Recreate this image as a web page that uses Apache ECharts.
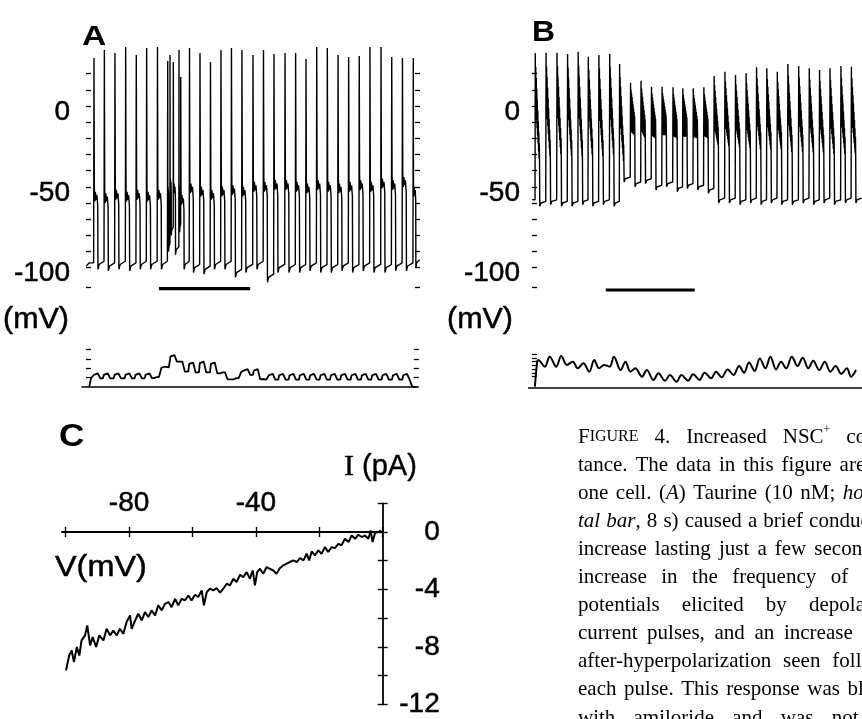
<!DOCTYPE html>
<html><head><meta charset="utf-8">
<script src="https://cdn.jsdelivr.net/npm/echarts@6/dist/echarts.min.js"></script>
<style>html,body{margin:0;padding:0;background:#fff}#c{width:862px;height:719px}</style>
</head><body><div id="c"></div>
<script>
// ---------- Panel A : membrane potential (mV) vs time (s) ----------
const aSpikeT = [0.70,1.61,2.54,3.48,4.41,5.32,6.27,7.17,7.37,7.66,8.16,8.31,9.08,10.00,10.92,11.84,12.76,13.68,14.65,15.57,16.49,17.46,18.39,19.30,20.24,21.17,22.11,23.04,23.97,24.91,25.88,26.82,27.76,28.71];
const aPeak   = [29.7,34.6,32.8,36.5,31.5,35.9,36.5,27.8,31.5,27.2,34.6,18.0,35.9,32.8,27.2,34.6,35.9,34.6,31.5,34.6,32.2,32.8,32.8,29.0,36.5,35.9,31.5,30.3,30.9,36.5,36.5,30.3,29.7,29.7];
const aHump   = [-53,-54,-52,-53,-52,-53,-52,-50,-45,-48,-50,-55,-48,-50,-52,-50,-49,-50,-47,-47,-46,-46,-47,-48,-46,-47,-48,-47,-46,-47,-45,-46,-44,-50];
const aTrough = [-101,-102,-101,-102,-101,-101,-101,-90,-80,-92,-78,-101,-103,-104,-101,-101,-106,-103,-101,-109,-103,-103,-103,-102,-103,-103,-102,-103,-102,-103,-103,-102,-102,-100];
const aBarT   = [6.4,14.4];
// A conductance (arbitrary units) : one hump per current pulse
const aBumpT   = [0.94,1.81,2.75,3.71,4.59,5.47,6.30,6.95,7.66,8.36,9.30,10.23,11.20,12.10,13.30,14.09,14.97,15.50,16.29,17.19,18.10,19.01,19.91,20.82,21.73,22.63,23.54,24.45,25.35,26.26,27.17,28.07];
const aBumpTop = [1.45,1.45,1.45,1.45,1.45,1.45,1.05,2.15,3.40,2.70,2.60,2.70,2.60,1.55,0.95,1.90,1.90,0.85,1.40,1.40,1.40,1.40,1.40,1.40,1.40,1.40,1.40,1.40,1.40,1.40,1.40,1.40];
const aBumpLow = [0.92,0.92,0.92,0.92,0.92,0.95,2.05,2.10,2.70,1.63,1.55,1.55,1.45,0.82,1.60,1.28,0.80,0.78,0.78,0.78,0.78,0.78,0.78,0.78,0.78,0.78,0.78,0.78,0.78,0.78,0.78,0.78];

// ---------- Panel B ----------
const bSpikeT   = [0.29,1.25,2.22,3.16,4.10,5.00,5.94,6.90,7.78,8.75,9.68,10.61,11.55,12.52,13.39,14.32,15.26,16.17,17.13,18.07,19.01,19.94,20.85,21.78,22.72,23.68,24.62,25.53,26.46,27.43,28.36];
const bPeak     = [32.8,33.0,33.0,32.2,33.6,30.5,31.5,32.2,26.0,14.4,15.6,11.9,11.9,11.6,10.9,10.9,11.6,18.6,21.2,19.2,20.2,23.9,23.3,21.2,26.0,24.7,23.3,22.3,23.3,24.7,24.3];
const bShoulder = [-35,-33,-32,-33,-33,-32,-33,-32,-36,-18,-20,-20,-18,-20,-19,-20,-20,-25,-26,-26,-27,-28,-28,-28,-30,-30,-30,-30,-31,-31,-31];
const bTrough   = [-62,-61,-62,-62,-61,-62,-61,-62,-47,-50,-48,-52,-50,-53,-51,-52,-54,-60,-60,-61,-60,-61,-60,-61,-61,-60,-61,-60,-61,-60,-60];
const bBarT     = [6.55,14.45];
const bCondT = [0.26,0.47,0.56,1.14,1.58,2.16,2.60,3.10,3.63,4.06,4.56,5.09,5.53,5.96,6.40,6.90,7.28,7.87,8.30,8.74,9.18,9.77,10.20,10.79,11.23,11.81,12.25,12.84,13.27,13.86,14.30,14.88,15.32,15.91,16.34,16.84,17.37,17.89,18.39,18.83,19.27,19.77,20.23,20.73,21.17,21.67,22.11,22.57,23.07,23.57,24.04,24.53,24.97,25.50,25.99,26.49,26.96,27.46,27.95,28.33,28.77];
const bCondG = [0.14,2.80,2.98,2.27,3.33,2.27,3.40,2.45,2.80,2.09,2.62,1.74,2.98,2.09,2.45,2.27,3.33,1.91,2.80,1.74,2.09,1.21,1.91,0.85,1.56,0.78,1.38,0.67,1.38,0.78,1.45,0.85,1.63,1.03,1.74,1.14,1.98,1.38,2.34,1.63,2.70,1.81,3.15,2.09,3.33,1.98,2.80,2.09,3.33,2.34,3.22,2.09,2.91,1.91,2.80,1.74,2.34,1.50,2.09,1.21,1.91];

// ---------- Panel C : I-V relation ----------
const ivPoints = [[-99.9,-9.64],[-98.9,-8.60],[-98.1,-8.25],[-97.4,-9.06],[-96.5,-8.01],[-95.7,-8.60],[-95.0,-7.55],[-93.9,-7.20],[-93.2,-6.51],[-92.3,-7.90],[-91.5,-7.32],[-90.4,-8.01],[-89.4,-7.20],[-88.1,-7.55],[-87.1,-6.74],[-86.0,-7.20],[-85.0,-6.86],[-83.9,-7.20],[-82.9,-6.74],[-81.8,-7.09],[-80.8,-6.27],[-79.7,-5.81],[-79.2,-6.74],[-78.1,-6.16],[-77.1,-5.69],[-76.0,-6.16],[-75.0,-5.58],[-73.9,-5.92],[-72.9,-5.46],[-71.8,-5.81],[-70.8,-5.11],[-69.7,-5.46],[-68.7,-5.00],[-67.6,-4.88],[-66.6,-5.23],[-65.5,-4.65],[-64.5,-5.11],[-63.4,-4.65],[-62.4,-4.76],[-61.3,-4.42],[-60.3,-4.76],[-59.2,-4.37],[-58.2,-4.53],[-57.1,-4.07],[-56.4,-5.11],[-55.5,-4.18],[-54.5,-3.95],[-53.4,-4.07],[-52.4,-3.90],[-51.3,-4.23],[-50.3,-3.95],[-49.2,-3.60],[-48.2,-3.72],[-47.1,-3.25],[-46.1,-3.48],[-45.0,-2.98],[-44.0,-3.14],[-42.9,-2.79],[-41.9,-3.25],[-41.0,-2.68],[-40.3,-3.72],[-39.6,-2.79],[-38.7,-2.56],[-37.7,-2.91],[-36.6,-2.44],[-35.6,-2.56],[-34.5,-2.68],[-33.5,-2.91],[-32.4,-2.51],[-31.4,-2.33],[-30.3,-2.21],[-29.3,-2.09],[-28.2,-1.98],[-27.1,-2.09],[-26.1,-1.81],[-25.0,-1.98],[-24.0,-1.51],[-23.2,-1.98],[-22.4,-1.35],[-21.4,-1.63],[-20.3,-1.28],[-19.3,-1.51],[-18.2,-1.05],[-17.2,-1.39],[-16.1,-1.05],[-15.1,-1.12],[-14.0,-0.82],[-13.0,-0.93],[-11.9,-0.47],[-10.8,-0.70],[-9.8,-0.24],[-8.7,-0.47],[-7.7,-0.19],[-6.6,-0.35],[-5.6,-0.24],[-4.5,-0.47],[-3.8,0.11],[-3.2,-0.70],[-2.4,-0.05],[-1.4,0.00],[-0.6,0.11]];

// ---------- tick values / labels ----------
const mvTicks = [20,10,0,-10,-20,-30,-40,-50,-60,-70,-80,-90,-100,-112];
const mvLabels = [0,-50,-100];
const gTicksA = [1,2,3,4];
const gTicksB = [1.2,1.6,2.0,2.4,2.8,3.2,3.6];
const vTicks = [-100,-80,-60,-40,-20,0];
const vLabels = [-80,-40];
const iTicks = [2,0,-2,-4,-6,-8,-10,-12];
const iLabels = [0,-4,-8,-12];

// ---------- caption (justified column, cut by the right page edge) ----------
const captionLines = [
  [[['F','n'],['IGURE','sc']], [['4.','n']], [['Increased','n']], [['NSC','n'],['+','sup']], [['conduc-','n']]],
  [[['tance.','n']],[['The','n']],[['data','n']],[['in','n']],[['this','n']],[['figure','n']],[['are','n']],[['from','n']]],
  [[['one','n']],[['cell.','n']],[['(','n'],['A','i'],[')','n']],[['Taurine','n']],[['(10','n']],[['nM;','n']],[['horizon-','i']]],
  [[['tal','i']],[['bar','i'],[',','n']],[['8','n']],[['s)','n']],[['caused','n']],[['a','n']],[['brief','n']],[['conductance','n']]],
  [[['increase','n']],[['lasting','n']],[['just','n']],[['a','n']],[['few','n']],[['seconds,','n']],[['an','n']]],
  [[['increase','n']],[['in','n']],[['the','n']],[['frequency','n']],[['of','n']],[['action','n']]],
  [[['potentials','n']],[['elicited','n']],[['by','n']],[['depolarizing','n']]],
  [[['current','n']],[['pulses,','n']],[['and','n']],[['an','n']],[['increase','n']],[['in','n']],[['the','n']]],
  [[['after-hyperpolarization','n']],[['seen','n']],[['following','n']]],
  [[['each','n']],[['pulse.','n']],[['This','n']],[['response','n']],[['was','n']],[['blocked','n']]],
  [[['with','n']],[['amiloride','n']],[['and','n']],[['was','n']],[['not','n']],[['seen','n']]]
];

// ---------- build traces from the read values ----------
function buildA(){
  const p=[[0.02,-99],[0.3,-97],[aSpikeT[0]-0.03,-97]];
  for(let i=0;i<aSpikeT.length;i++){
    const t=aSpikeT[i], nx=i+1<aSpikeT.length?aSpikeT[i+1]:29.3;
    const s=Math.min(1,(nx-t)/0.9), h=aHump[i], tr=aTrough[i];
    p.push([t,aPeak[i]],[t+0.03*s,h+2],[t+0.08*s,h-6],[t+0.12*s,h],[t+0.2*s,h-5],[t+0.26*s,h-2],[t+0.33*s,h-9],[t+0.35*s,tr],[t+0.45*s,tr+3],[nx-0.03*s,tr+5]);
  }
  return p;
}
function buildB(){
  const p=[[0.02,-58],[bSpikeT[0]-0.02,-58]];
  for(let i=0;i<bSpikeT.length;i++){
    const t=bSpikeT[i], nx=i+1<bSpikeT.length?bSpikeT[i+1]:29.3;
    const s=Math.min(1,(nx-t)/0.9), pk=bPeak[i], sh=bShoulder[i];
    p.push([t,pk]);
    const N=16;
    for(let k=1;k<=N;k++){
      const f=k/N, x=t+0.36*s*f;
      const y = (k%2) ? (pk-30)+(sh-(pk-30))*f : (pk-2)+(sh+12-(pk-2))*f;
      p.push([x,y]);
    }
    p.push([t+0.38*s,sh],[t+0.40*s,bTrough[i]],[t+0.5*s,bTrough[i]+2],[nx-0.03*s,bTrough[i]+3]);
  }
  return p;
}
function buildACond(){
  const p=[[0.29,0.05],[0.45,0.95]];
  let low=0.95;
  for(let i=0;i<aBumpT.length;i++){
    const c=aBumpT[i], top=aBumpTop[i];
    p.push([c-0.32,low],[c-0.24,top-0.15],[c-0.1,top],[c+0.1,top],[c+0.24,top-0.15],[c+0.32,aBumpLow[i]]);
    low=aBumpLow[i];
  }
  p.push([28.5,low],[28.62,0.05],[29.0,0.02]);
  return p;
}

const K='#000';
const CAP = {x:578, y0:437, dy:28.1, width:336};
const segFont = {n:'21px "Liberation Serif"', i:'italic 21px "Liberation Serif"', sc:'16px "Liberation Serif"', sup:'12px "Liberation Serif"'};
const mctx = document.createElement('canvas').getContext('2d');
function segW(seg){ mctx.font = segFont[seg[1]]; return mctx.measureText(seg[0]).width; }
function captionGraphics(){
  const out=[];
  captionLines.forEach((words, li)=>{
    const ww = words.map(w=>w.reduce((s,g)=>s+segW(g),0));
    const total = ww.reduce((a,b)=>a+b,0);
    const gap = words.length>1 ? (CAP.width-total)/(words.length-1) : 0;
    let x = CAP.x; const y = CAP.y0 + li*CAP.dy;
    words.forEach((w,wi)=>{
      let sx=x;
      w.forEach(g=>{
        out.push({type:'text', x:sx, y: g[1]==='sup' ? y-7 : y, silent:true,
          style:{text:g[0], font:segFont[g[1]], fill:K, verticalAlign:'middle'}});
        sx += segW(g);
      });
      x += ww[wi] + gap;
    });
  });
  return out;
}

const chart = echarts.init(document.getElementById('c'), null, {renderer:'canvas'});
const numFont = {color:K, fontSize:28, fontFamily:'Liberation Sans', textBorderColor:K, textBorderWidth:0.5};
const mvAxis = (gi, pos, labels, margin) => ({
  gridIndex:gi, type:'value', min:-120, max:50, position:pos,
  axisLine:{show:false}, splitLine:{show:false},
  axisTick:{show:true, inside:true, length:5, customValues:mvTicks, lineStyle:{color:K,width:1.3}},
  axisLabel:Object.assign({show:labels, customValues:mvLabels, margin:margin, verticalAlign:'top', lineHeight:12}, numFont)
});
const line = (xi, yi, data, w, extra) => Object.assign({type:'line', xAxisIndex:xi, yAxisIndex:yi, data:data, symbol:'none', silent:true, clip:false,
  lineStyle:{color:K, width:w}, animation:false}, extra||{});
const T = (txt, x, y, font, extra, sx) => ({type:'text', x:x, y:y, scaleX:sx||1, silent:true, style:Object.assign({text:txt, font:font, fill:K}, extra||{})});
const bold = {stroke:K, lineWidth:0.5};

chart.setOption({
  backgroundColor:'#fff',
  animation:false,
  grid:[
    {left:86, top:25.15, width:334, height:274.9},
    {left:532, top:25.15, width:334, height:274.9},
    {left:81.4, top:344.7, width:337.4, height:47},
    {left:528, top:345.7, width:338, height:47},
    {left:61.9, top:503.3, width:320.8, height:201}
  ],
  xAxis:[
    {gridIndex:0, type:'value', min:0, max:29.3, show:false},
    {gridIndex:1, type:'value', min:0, max:29.3, show:false},
    {gridIndex:2, type:'value', min:-0.4, max:29.2, show:false},
    {gridIndex:3, type:'value', min:-0.35, max:29.3, show:false},
    {gridIndex:4, type:'value', min:-101.2, max:0, position:'top', splitLine:{show:false},
      axisLine:{show:true, onZero:true, lineStyle:{color:K,width:1.8}},
      axisTick:{show:true, inside:true, length:5, customValues:vTicks, lineStyle:{color:K,width:1.4}},
      axisLabel:Object.assign({show:true, customValues:vLabels, margin:-14}, numFont)},
    {gridIndex:4, type:'value', min:-101.2, max:0, position:'top', splitLine:{show:false},
      axisLine:{show:false, onZero:true},
      axisTick:{show:true, inside:false, length:5, customValues:vTicks, lineStyle:{color:K,width:1.4}},
      axisLabel:{show:false}}
  ],
  yAxis:[
    mvAxis(0,'left',true,16),
    mvAxis(0,'right',false,8),
    mvAxis(1,'left',true,12),
    {gridIndex:2, type:'value', min:-0.5, max:4.5, position:'left', axisLine:{show:false}, splitLine:{show:false}, axisLabel:{show:false},
      axisTick:{show:true, inside:true, length:5, customValues:gTicksA, lineStyle:{color:K,width:1.3}}},
    {gridIndex:2, type:'value', min:-0.5, max:4.5, position:'right', axisLine:{show:false}, splitLine:{show:false}, axisLabel:{show:false},
      axisTick:{show:true, inside:true, length:5, customValues:gTicksA, lineStyle:{color:K,width:1.3}}},
    {gridIndex:3, type:'value', min:-0.5, max:4.5, position:'left', axisLine:{show:false}, splitLine:{show:false}, axisLabel:{show:false},
      axisTick:{show:true, inside:true, length:5, customValues:gTicksB, lineStyle:{color:K,width:1.2}}},
    {gridIndex:4, type:'value', min:-12, max:2, position:'right', splitLine:{show:false},
      axisLine:{show:true, onZero:false, lineStyle:{color:K,width:1.8}},
      axisTick:{show:true, inside:true, length:5, customValues:iTicks, lineStyle:{color:K,width:1.4}},
      axisLabel:Object.assign({show:true, customValues:iLabels, margin:57, align:'right'}, numFont)},
    {gridIndex:4, type:'value', min:-12, max:2, position:'right', splitLine:{show:false},
      axisLine:{show:false, onZero:false},
      axisTick:{show:true, inside:false, length:5, customValues:iTicks, lineStyle:{color:K,width:1.4}},
      axisLabel:{show:false}}
  ],
  series:[
    line(0,0,buildA(),1.4),
    line(0,0,aBarT.map(t=>[t,-112.9]),3.2),
    line(1,2,buildB(),1.4),
    line(1,2,bBarT.map(t=>[t,-113.8]),3.2),
    line(2,3,buildACond(),1.8),
    line(2,3,[[-0.4,0],[29.2,0]],1.5),
    line(3,5,bCondT.map((t,i)=>[t,bCondG[i]]),2,{smooth:0.35}),
    line(3,5,[[-0.35,0],[29.3,0]],1.5),
    line(4,6,ivPoints,2)
  ],
  graphic:[
    T('A',82,23,'bold 28px "Liberation Sans"',null,1.2),
    T('B',532,18,'bold 29px "Liberation Sans"',null,1.1),
    T('C',59,421,'bold 32px "Liberation Sans"',null,1.1),
    T('(mV)',3,305,'29px "Liberation Sans"',bold,1.05),
    T('(mV)',447,305,'29px "Liberation Sans"',bold,1.05),
    T('V(mV)',55,553,'30px "Liberation Sans"',bold,1.08),
    {type:'text', x:344, y:452, silent:true, style:{text:'{s|I} (pA)', font:'29px "Liberation Sans"', fill:K, stroke:K, lineWidth:0.4,
      rich:{s:{font:'30px "Liberation Serif"', fill:K}}}}
  ].concat(captionGraphics())
});
</script></body></html>
